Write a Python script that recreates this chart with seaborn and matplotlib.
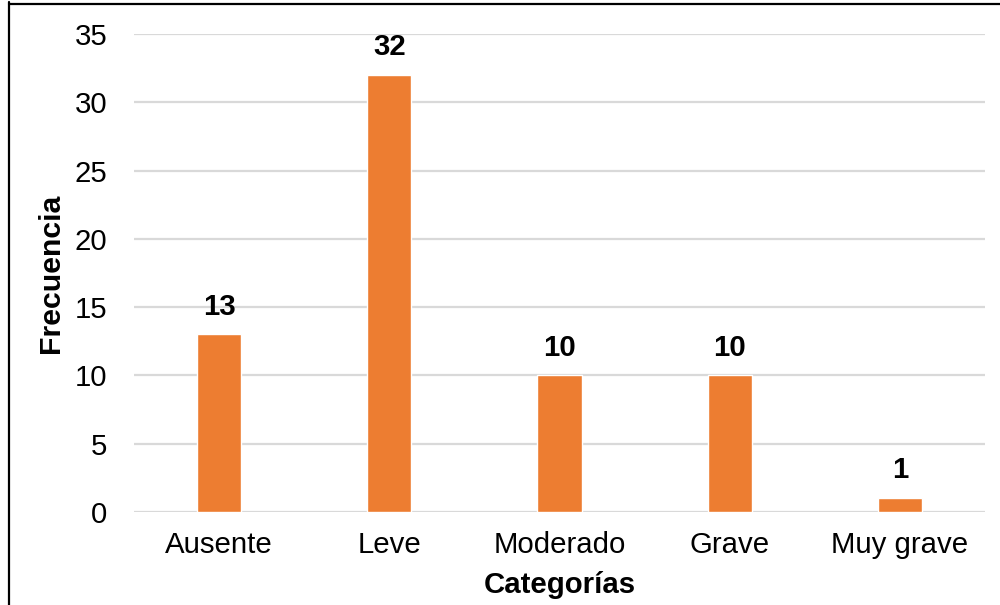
import matplotlib
matplotlib.use("Agg")
import matplotlib.pyplot as plt
from matplotlib.lines import Line2D
import seaborn as sns
import pandas as pd

categorias = ["Ausente", "Leve", "Moderado", "Grave", "Muy grave"]
frecuencia = [13, 32, 10, 10, 1]
yticks = [0, 5, 10, 15, 20, 25, 30, 35]

sns.set_theme(style="white")
plt.rcParams["font.family"] = ["Liberation Sans", "DejaVu Sans"]

df = pd.DataFrame({"Categorías": categorias, "Frecuencia": frecuencia})

fig = plt.figure(figsize=(10, 6.05), dpi=100)
ax = fig.add_axes([0.134, 0.1537, 0.851, 0.790])

sns.barplot(data=df, x="Categorías", y="Frecuencia", color="#ED7D31",
            saturation=1, width=0.26, ax=ax, zorder=3)

ax.set_ylim(0, 35)
ax.set_yticks(yticks)
ax.grid(axis="y", color="#D9D9D9", linewidth=1.6, zorder=0)
ax.grid(axis="x", visible=False)
for s in ax.spines.values():
    s.set_visible(False)

fs = 21.2
ax.tick_params(axis="y", length=0, pad=19, labelsize=fs, labelcolor="black")
ax.tick_params(axis="x", length=0, pad=14, labelsize=fs, labelcolor="black")

for i, v in enumerate(frecuencia):
    ax.annotate(str(v), (i, v), xytext=(0, 10), textcoords="offset points",
                ha="center", va="bottom", fontsize=fs, fontweight="bold",
                color="black")

ax.set_xlabel("Categorías", fontsize=fs, fontweight="bold", color="black",
              labelpad=8)
ax.set_ylabel("Frecuencia", fontsize=21.8, fontweight="bold", color="black",
              labelpad=7)

# frame lines on the left and top of the figure
fig.add_artist(Line2D([0.009, 0.009], [0, 1 - 0.004], transform=fig.transFigure,
                      color="black", linewidth=1.6))
fig.add_artist(Line2D([0.009, 1.0], [1 - 0.007, 1 - 0.007], transform=fig.transFigure,
                      color="black", linewidth=1.6))

fig.savefig("out.png", dpi=100)
